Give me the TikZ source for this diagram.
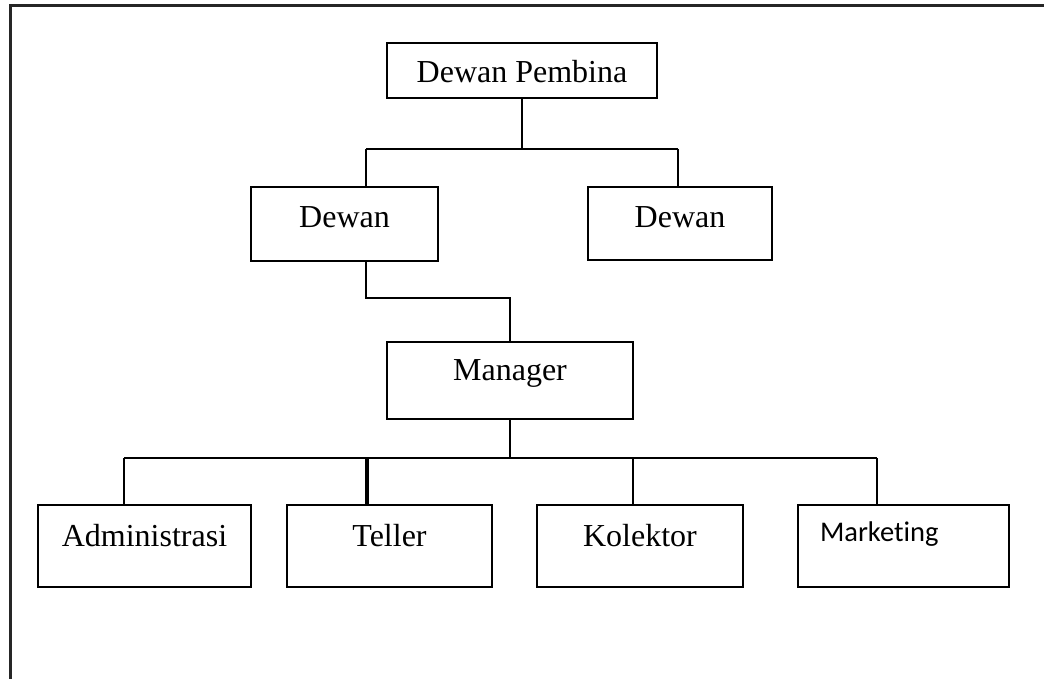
\documentclass[tikz,border=0pt]{standalone}
\usepackage{fontspec}
\setmainfont{Liberation Serif}
\newfontfamily\calibrifont[Ligatures=NoCommon]{Carlito}
\tikzset{
  unit/.style={draw, line width=2pt, inner sep=0pt, text height=16pt, text depth=16pt,
    font=\fontsize{32}{38}\selectfont},
  link/.style={line width=2.4pt}
}

\begin{document}
\begin{tikzpicture}[x=1pt,y=-1pt]
\useasboundingbox (0,0) rectangle (1044,679);
\clip (0,0) rectangle (1044,679);
\draw[line width=3pt,black!85] (10,6) rectangle (1080,720);
% boxes
\node[unit, minimum width=270pt, minimum height=55pt, text height=25pt, text depth=0pt] (pembina) at (522,70.5) {Dewan Pembina};
\node[unit, minimum width=187pt, minimum height=74pt, text height=20pt, text depth=12pt] (dewanA) at (344.5,224) {Dewan};
\node[unit, minimum width=184pt, minimum height=73pt, text height=20pt, text depth=12pt] (dewanB) at (680,223.5) {Dewan};
\node[unit, minimum width=246pt, minimum height=77pt] (manager) at (510,380.5) {Manager};
\node[unit, minimum width=213pt, minimum height=82pt] (admin) at (144.5,546) {Administrasi};
\node[unit, minimum width=205pt, minimum height=82pt] (teller) at (389.5,546) {Teller};
\node[unit, minimum width=206pt, minimum height=82pt] (kolektor) at (640,546) {Kolektor};
\node[unit, minimum width=211pt, minimum height=82pt, inner xsep=22pt, text width=167pt, align=left,
  text height=12pt, text depth=22pt, font=\calibrifont\fontsize{28.5}{34}\selectfont] (marketing) at (903.5,546) {Marketing};
% connectors
\coordinate (jA) at (366,149);
\coordinate (jB) at (678,149);
\draw[link] (pembina.south) -- (pembina.south |- jA);
\draw[link] (jA) -- (jB);
\draw[link] (jA) -- (jA |- dewanA.north);
\draw[link] (jB) -- (jB |- dewanB.north);
\coordinate (kA) at (366,298);
\draw[link] (kA |- dewanA.south) -- (kA) -| (manager.north);
\coordinate (mA) at (124,458);
\coordinate (mT) at (367,458);
\coordinate (mK) at (633,458);
\coordinate (mB) at (877,458);
\draw[link] (manager.south) -- (manager.south |- mA);
\draw[link] (mA) -- (mB);
\draw[link] (mA) -- (mA |- admin.north);
\draw[link, line width=3.2pt] (mT) -- (mT |- teller.north);
\draw[link] (mK) -- (mK |- kolektor.north);
\draw[link] (mB) -- (mB |- marketing.north);
\end{tikzpicture}
\end{document}
